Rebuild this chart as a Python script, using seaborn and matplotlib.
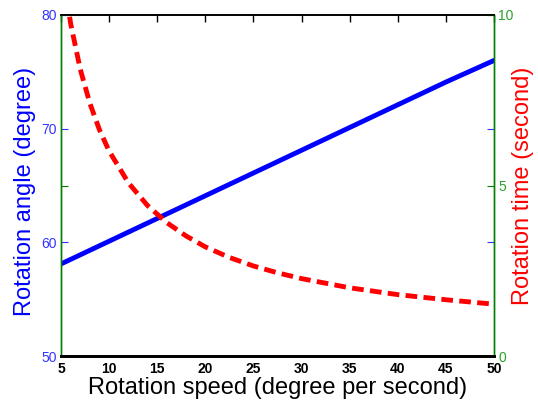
import numpy as np
import pandas as pd
import matplotlib
matplotlib.use('Agg')
import matplotlib.pyplot as plt
import seaborn as sns

sns.set_style('white')
plt.rcParams['font.family'] = ['Liberation Sans', 'DejaVu Sans']
plt.rcParams['text.color'] = 'black'
plt.rcParams['axes.labelcolor'] = 'black'

# Values
speed = [5, 6, 7, 8, 9, 10, 12, 14, 16, 18, 20, 22.5, 25, 27.5, 30, 35, 40, 45, 50]
angle = [58.1, 58.5, 58.9, 59.3, 59.7, 60.1, 60.9, 61.7, 62.5, 63.3, 64.1,
         65.1, 66.1, 67.1, 68.1, 70.1, 72.1, 74.1, 76.0]
rot_time = [11.62, 9.75, 8.41, 7.41, 6.63, 6.01, 5.08, 4.41, 3.91, 3.52, 3.2,
            2.89, 2.64, 2.44, 2.27, 2.0, 1.8, 1.65, 1.52]

df = pd.DataFrame({'speed': speed, 'angle': angle, 'time': rot_time})

blue = '#0000ff'
blue_txt = '#3333ff'
green = '#007f00'
green_txt = '#2ca02c'

fig = plt.figure(figsize=(5.38, 4.03), dpi=100)
ax1 = fig.add_axes([0.1134, 0.1166, 0.8048, 0.8462])
ax2 = ax1.twinx()

sns.lineplot(data=df, x='speed', y='angle', ax=ax1, color=blue, linewidth=3.5)
sns.lineplot(data=df, x='speed', y='time', ax=ax2, color='red', linewidth=3.5,
             linestyle=(0, (2.4, 1.3)))

ax1.set_xlim(5, 50)
ax1.set_ylim(50, 80)
ax2.set_ylim(0, 10)
ax1.set_xticks(range(5, 51, 5))
ax1.set_yticks([50, 60, 70, 80])
ax2.set_yticks([0, 5, 10])

ax1.set_xlabel('Rotation speed (degree per second)', fontsize=17, color='black')
ax1.set_ylabel('Rotation angle (degree)', fontsize=17, color=blue)
ax2.set_ylabel('Rotation time (second)', fontsize=17, color='red')
ax1.xaxis.set_label_coords(0.5, -0.061)
ax1.yaxis.set_label_coords(-0.058, 0.484)
ax2.yaxis.set_label_coords(1.042, 0.5)

ax1.tick_params(axis='x', direction='in', top=True, length=5, width=1,
                labelsize=10, pad=4.5, colors='black')
for t in ax1.get_xticklabels():
    t.set_fontweight('bold')
ax1.tick_params(axis='y', direction='in', left=True, right=True, length=5,
                labelsize=10, color=blue_txt, labelcolor=blue_txt, pad=3)
ax2.tick_params(axis='y', direction='in', left=True, right=True, length=5,
                labelsize=10, color=green, labelcolor=green_txt, pad=3)

for ax in (ax1, ax2):
    ax.spines['left'].set_color(green)
    ax.spines['right'].set_color(green)
    ax.spines['top'].set_color('black')
    ax.spines['bottom'].set_color('black')
    ax.spines['bottom'].set_linewidth(2)
    ax.spines['top'].set_linewidth(1.2)
    ax.spines['left'].set_linewidth(1)
    ax.spines['right'].set_linewidth(1)
    ax.grid(False)

fig.savefig('out.png', dpi=100)
